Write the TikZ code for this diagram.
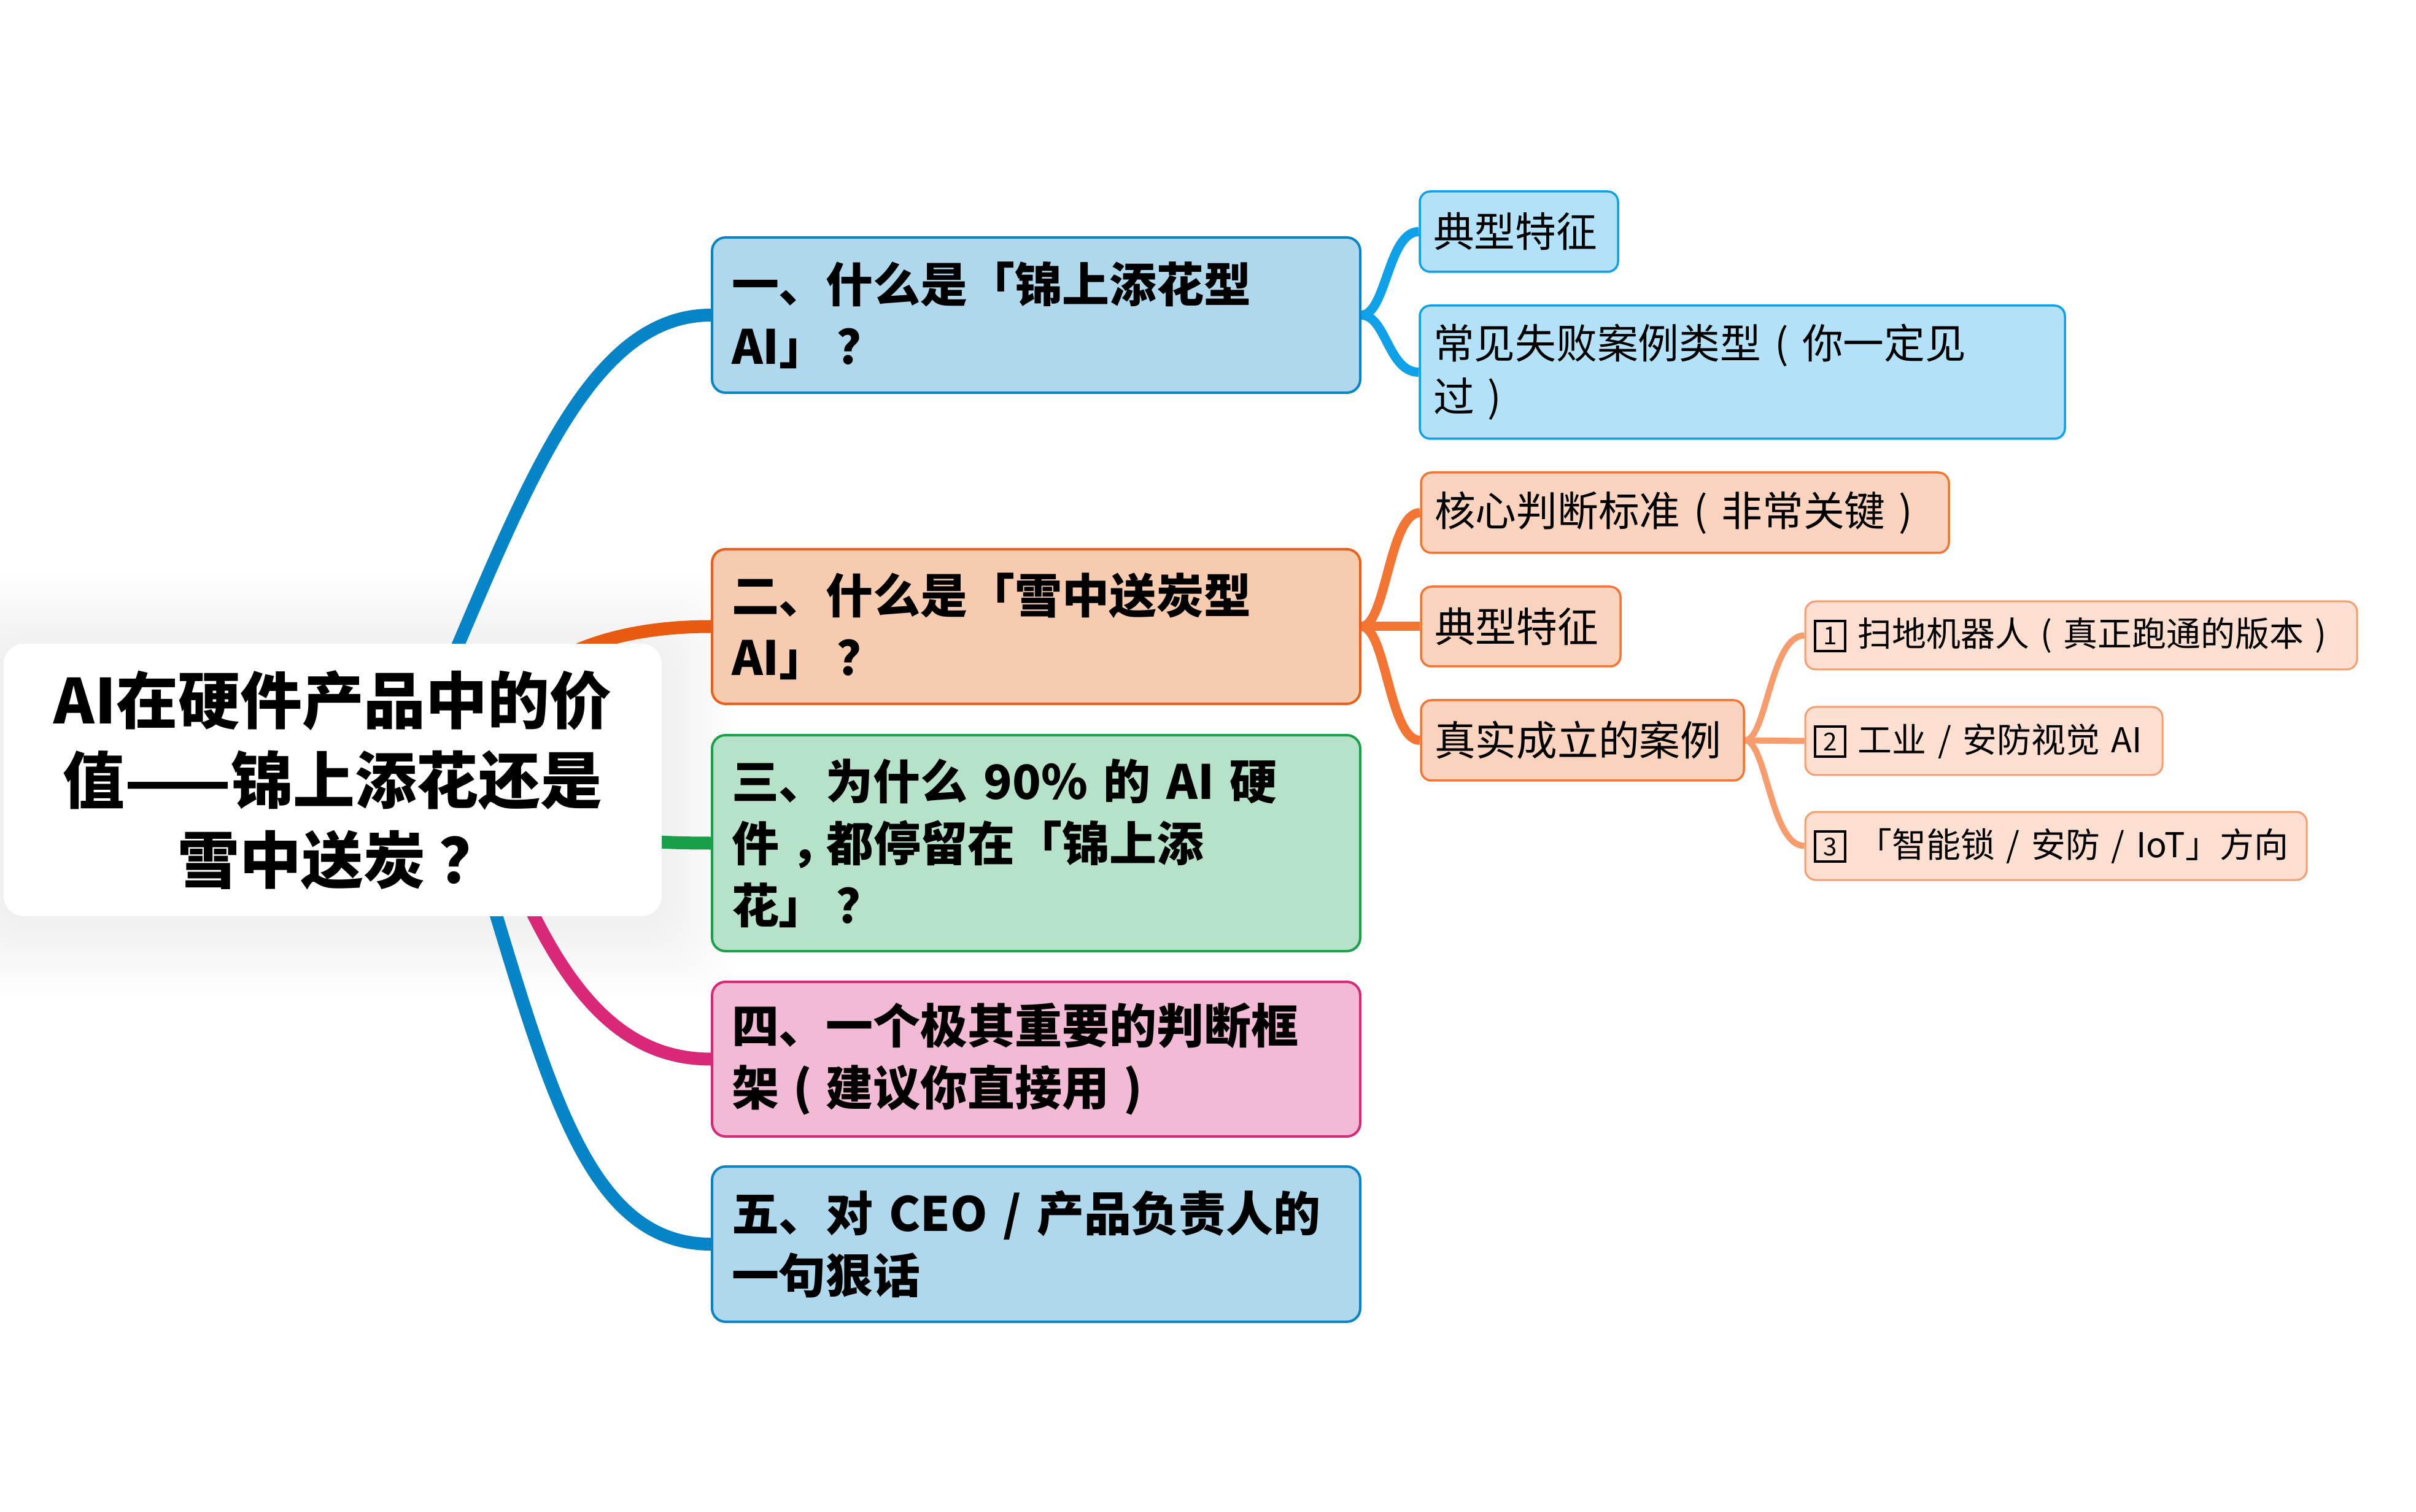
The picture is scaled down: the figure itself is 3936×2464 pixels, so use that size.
\documentclass[tikz,border=0pt]{standalone}
\usepackage{fontspec}
\setmainfont{Noto Sans CJK SC}
\usetikzlibrary{calc}
\definecolor{bOneFill}{HTML}{B0D8EC}
\definecolor{bOneLine}{HTML}{0B84C6}
\definecolor{cBlue}{HTML}{0585C8}
\definecolor{bTwoFill}{HTML}{F7CBB0}
\definecolor{bTwoLine}{HTML}{E8601C}
\definecolor{cOrange}{HTML}{E85A10}
\definecolor{bThreeFill}{HTML}{B5E2C8}
\definecolor{bThreeLine}{HTML}{1DA04B}
\definecolor{cGreen}{HTML}{17A049}
\definecolor{bFourFill}{HTML}{F3BAD5}
\definecolor{bFourLine}{HTML}{D7287A}
\definecolor{cPink}{HTML}{D92877}
\definecolor{lbFill}{HTML}{B2E1F8}
\definecolor{lbLine}{HTML}{0EA1EA}
\definecolor{loFill}{HTML}{FAD3BE}
\definecolor{loLine}{HTML}{F47533}
\definecolor{llFill}{HTML}{FCDFD1}
\definecolor{llLine}{HTML}{F89C6E}
\pgfdeclarelayer{bg}
\pgfsetlayers{bg,main}
\newcommand\numbx[1]{\raisebox{-0.5mm}{\setlength\fboxsep{0pt}\setlength\fboxrule{0.4mm}\fbox{\parbox[b][4.5mm][c]{4.5mm}{\centering\fontsize{11.5pt}{11.5pt}\selectfont #1}}}}
\newcommand\fwlp{\makebox[1em][c]{(}}
\newcommand\fwrp{\makebox[1em][c]{)}}
\newcommand\fwq{\makebox[1em][l]{\hspace{0.22em}？}}
\newcommand\fwcomma{\makebox[1em][l]{\hspace{0.25em}，}}
\tikzset{
  rootbox/.style={fill=white, rounded corners=3.3mm, text width=104mm, inner xsep=1.6mm, inner ysep=0pt, align=center, minimum width=107.2mm, minimum height=44.4mm, font=\fontsize{28.7pt}{37pt}\selectfont\bfseries},
  lvone/.style={draw, line width=0.4mm, rounded corners=2.2mm, text width=99.2mm, inner xsep=3.2mm, inner ysep=0pt, align=left, minimum width=105.6mm, font=\fontsize{21.9pt}{28.7pt}\selectfont\bfseries},
  lvtwo/.style={draw, line width=0.35mm, rounded corners=1.7mm, inner xsep=2.2mm, inner ysep=0pt, align=left, font=\fontsize{19pt}{24.7pt}\selectfont},
  lvthree/.style={draw, line width=0.3mm, rounded corners=1.7mm, inner xsep=1.4mm, inner ysep=0pt, align=left, font=\fontsize{15.9pt}{19pt}\selectfont},
  cone/.style={line width=2.1mm, draw=#1},
  ctwo/.style={line width=1.5mm, draw=#1},
  cthree/.style={line width=1mm, draw=#1}
}
\begin{document}
\begin{tikzpicture}[x=0.1mm, y=-0.1mm]
\useasboundingbox (0,0) rectangle (3936,2464);
% nodes
\node[rootbox] (root) at (542,1271) {AI在硬件产品中的价\\值——锦上添花还是\\雪中送炭\fwq};
\node[lvone, fill=bOneFill, draw=bOneLine, minimum height=25.3mm] (b1) at (1688,513.5) {一、什么是「锦上添花型\\AI」\fwq};
\node[lvone, fill=bTwoFill, draw=bTwoLine, minimum height=25.2mm] (b2) at (1688,1021) {二、什么是「雪中送炭型\\AI」\fwq};
\node[lvone, fill=bThreeFill, draw=bThreeLine, minimum height=35.2mm] (b3) at (1688,1374) {三、为什么 90\% 的 AI 硬\\件\fwcomma 都停留在「锦上添\\花」\fwq};
\node[lvone, fill=bFourFill, draw=bFourLine, minimum height=25.2mm] (b4) at (1688,1726) {四、一个极其重要的判断框\\架\fwlp 建议你直接用\fwrp};
\node[lvone, fill=bOneFill, draw=bOneLine, minimum height=25.3mm] (b5) at (1688,2027.5) {五、对 CEO / 产品负责人的\\一句狠话};
\node[lvtwo, fill=lbFill, draw=lbLine, text width=27.9mm, minimum height=13.1mm] (c1) at (2474.5,377.5) {典型特征};
\node[lvtwo, fill=lbFill, draw=lbLine, text width=100.7mm, minimum height=21.7mm] (c2) at (2838.5,606.5) {常见失败案例类型\fwlp 你一定见\\过\fwrp};
\node[lvtwo, fill=loFill, draw=loLine, text width=81.6mm, minimum height=13.1mm] (d1) at (2745,835.5) {核心判断标准\fwlp 非常关键\fwrp};
\node[lvtwo, fill=loFill, draw=loLine, text width=28.1mm, minimum height=13mm] (d2) at (2477.5,1021) {典型特征};
\node[lvtwo, fill=loFill, draw=loLine, text width=48.2mm, minimum height=13.1mm] (d3) at (2578,1206.5) {真实成立的案例};
\node[lvthree, fill=llFill, draw=llLine, text width=87.1mm, minimum height=11.1mm] (e1) at (3390.5,1035.5) {\numbx{1} 扫地机器人\fwlp 真正跑通的版本\fwrp};
\node[lvthree, fill=llFill, draw=llLine, text width=55.4mm, minimum height=11.1mm] (e2) at (3232,1207.5) {\numbx{2} 工业 / 安防视觉 AI};
\node[lvthree, fill=llFill, draw=llLine, text width=78.9mm, minimum height=11.1mm] (e3) at (3349.5,1378.5) {\numbx{3} 「智能锁 / 安防 / IoT」方向};
% start points hidden behind the central topic
\coordinate (s1) at (650,1271);
\coordinate (s2) at (760,1271);
\coordinate (s3) at (760,1271);
\coordinate (s4) at (780,1271);
\coordinate (s5) at (740,1271);
\begin{pgfonlayer}{bg}
\fill[white] (0,0) rectangle (3936,2464);
\foreach \i in {1,...,15}{
  \fill[black, opacity=0.003, rounded corners=6mm] ({6-\i*8},{1057-\i*8}) rectangle ({1078+\i*8},{1501+\i*8});
}
\draw[cone=cBlue] (s1) .. controls (830,880) and (930,514) .. (b1.west);
\draw[cone=cOrange] (s2) .. controls (800,1100) and (950,1021) .. (b2.west);
\draw[cone=cGreen] (s3) .. controls (900,1360) and (1000,1374) .. (b3.west);
\draw[cone=cPink] (s4) .. controls (880,1560) and (980,1726) .. (b4.west);
\draw[cone=cBlue] (s5) .. controls (880,1700) and (930,2027) .. (b5.west);
\draw[ctwo=lbLine] (b1.east) .. controls +(40,0) and +(-50,0) .. (c1.west);
\draw[ctwo=lbLine] (b1.east) .. controls +(40,0) and +(-50,0) .. (c2.west);
\draw[ctwo=loLine] (b2.east) .. controls +(40,0) and +(-50,0) .. (d1.west);
\draw[ctwo=loLine] (b2.east) -- (d2.west);
\draw[ctwo=loLine] (b2.east) .. controls +(40,0) and +(-50,0) .. (d3.west);
\draw[cthree=llLine] (d3.east) .. controls +(35,0) and +(-55,0) .. (e1.west);
\draw[cthree=llLine] (d3.east) -- (e2.west);
\draw[cthree=llLine] (d3.east) .. controls +(35,0) and +(-55,0) .. (e3.west);
\end{pgfonlayer}
\end{tikzpicture}
\end{document}
